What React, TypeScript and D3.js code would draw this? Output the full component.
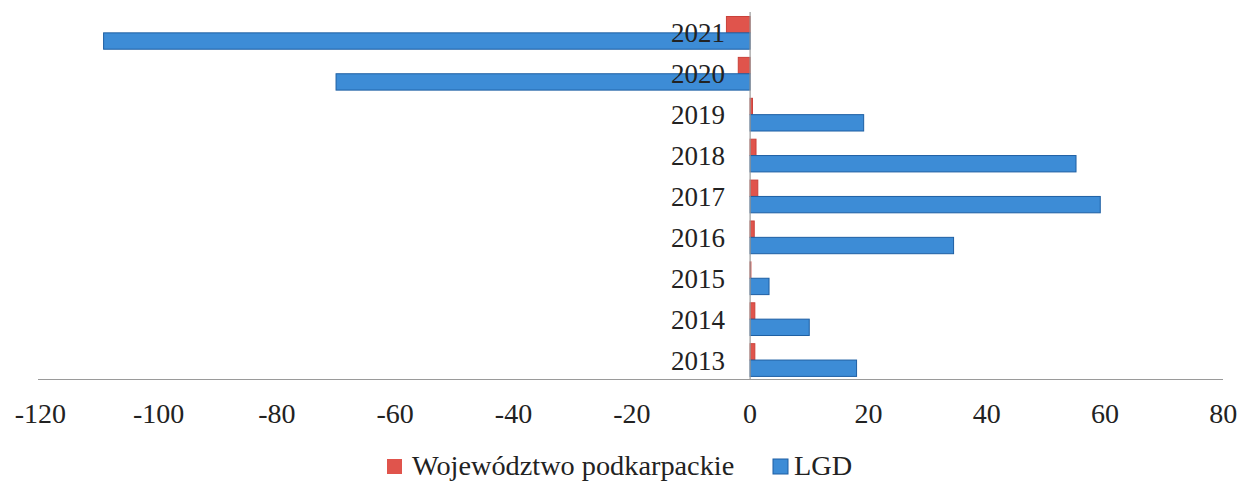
import React from "react";
import * as d3 from "d3";

const years = ["2013", "2014", "2015", "2016", "2017", "2018", "2019", "2020", "2021"];
const wojewodztwo = [0.8, 0.8, 0.1, 0.7, 1.3, 1.0, 0.4, -2, -4];
const lgd = [18, 10, 3.2, 34.4, 59.2, 55.1, 19.2, -70, -109.3];
const xTicks = [-120, -100, -80, -60, -40, -20, 0, 20, 40, 60, 80];
const seriesNames = ["Województwo podkarpackie", "LGD"];
const seriesColors = ["#E0544C", "#3D8CD6"];
const seriesStroke = ["#C9413A", "#1E5FA3"];

const W = 1239;
const H = 483;
const FONT = "'Liberation Serif', 'Times New Roman', serif";

export default function App() {
  const x = d3.scaleLinear().domain([-120, 80]).range([40.3, 1223.3]);
  const y = d3
    .scaleBand<string>()
    .domain([...years].reverse())
    .range([12.4, 380.5])
    .paddingInner(0.2)
    .paddingOuter(0.1);
  const sub = d3.scaleBand<string>().domain(["w", "l"]).range([0, y.bandwidth()]);
  const x0 = x(0);
  const series = [wojewodztwo, lgd];
  const keys = ["w", "l"];

  return (
    <svg
      width={W}
      height={H}
      style={{ position: "absolute", left: 0, top: 0, background: "#fff" }}
      fontFamily={FONT}
    >
      <rect x={0} y={0} width={W} height={H} fill="#fff" />
      {years.map((yr, i) =>
        series.map((s, k) => {
          const v = s[i];
          const x1 = x(Math.min(0, v));
          const x2 = x(Math.max(0, v));
          return (
            <rect
              key={yr + k}
              x={x1}
              y={(y(yr) as number) + (sub(keys[k]) as number)}
              width={Math.max(0.8, x2 - x1)}
              height={sub.bandwidth()}
              fill={seriesColors[k]}
              stroke={seriesStroke[k]}
              strokeWidth={1}
            />
          );
        })
      )}
      <line x1={x0} x2={x0} y1={12} y2={380} stroke="#9a9a9a" strokeWidth={1.2} />
      <line x1={38} x2={1223} y1={379.5} y2={379.5} stroke="#9a9a9a" strokeWidth={1.2} />
      {years.map((yr) => (
        <text
          key={"l" + yr}
          x={x0 - 25}
          y={(y(yr) as number) + y.bandwidth() / 2}
          dy="0.35em"
          textAnchor="end"
          fontSize={27}
          fill="#222"
        >
          {yr}
        </text>
      ))}
      {xTicks.map((t) => (
        <text key={"t" + t} x={x(t)} y={423} textAnchor="middle" fontSize={28} fill="#222">
          {t}
        </text>
      ))}
      <rect x={387} y={459} width={15} height={15} fill={seriesColors[0]} />
      <text x={412} y={475} fontSize={28.3} fill="#222">
        {seriesNames[0]}
      </text>
      <rect x={773} y={459} width={15} height={15} fill={seriesColors[1]} stroke={seriesStroke[1]} />
      <text x={794} y={475} fontSize={28.3} fill="#222">
        {seriesNames[1]}
      </text>
    </svg>
  );
}
